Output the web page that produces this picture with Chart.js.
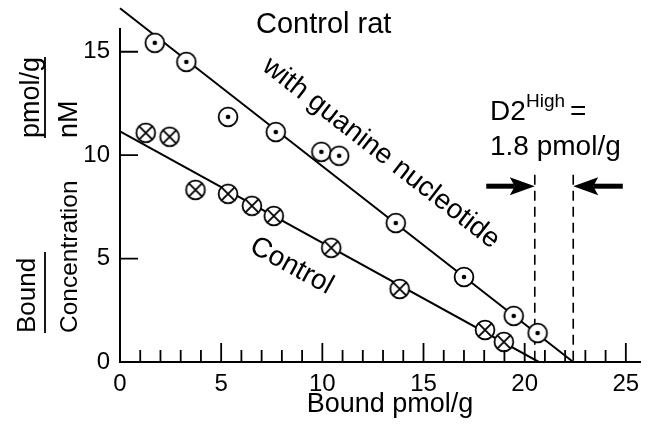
<!DOCTYPE html>
<html>
<head>
<meta charset="utf-8">
<script src="https://cdn.jsdelivr.net/npm/chart.js@4.4.0/dist/chart.umd.min.js"></script>
<style>
  html, body { margin: 0; padding: 0; background: #fff; }
  #wrap { position: relative; width: 653px; height: 425px; }
</style>
</head>
<body>
<div id="wrap"><canvas id="chart"></canvas></div>
<script>
// values
const guanineX = [1.72, 3.28, 5.34, 7.7, 9.95, 10.83, 13.63, 17.0, 19.46, 20.64];
const guanineY = [15.43, 14.51, 11.85, 11.12, 10.16, 9.97, 6.72, 4.11, 2.23, 1.4];
const controlX = [1.27, 2.45, 3.73, 5.34, 6.52, 7.6, 10.44, 13.82, 18.04, 18.97];
const controlY = [11.08, 10.89, 8.32, 8.13, 7.55, 7.06, 5.52, 3.53, 1.55, 0.97];

const guanineFitX = [0, 22.4];
const guanineFitY = [17.1, 0];
const controlFitX = [0, 20.7];
const controlFitY = [11.15, 0];

const bmaxX = [20.5, 22.4];   // dashed Bmax markers
const dashTop = 9.05;
const arrowY = 8.5;
const arrowTails = [18.1, 24.85];

const xTicks = [0, 5, 10, 15, 20, 25];
const yTicks = [0, 5, 10, 15];

const FONT = '"Liberation Sans", Arial, Helvetica, sans-serif';

const pts = (xs, ys) => xs.map((x, i) => ({ x: x, y: ys[i] }));

function marker(kind) {
  const c = document.createElement('canvas');
  c.width = 24; c.height = 24;
  const g = c.getContext('2d');
  g.fillStyle = '#fff';
  g.strokeStyle = '#000';
  g.lineWidth = 1.8;
  g.beginPath(); g.arc(12, 12, 9.4, 0, Math.PI * 2); g.fill(); g.stroke();
  if (kind === 'dot') {
    g.fillStyle = '#000';
    g.beginPath(); g.arc(12, 12, 2.3, 0, Math.PI * 2); g.fill();
  } else {
    const d = 6.6;
    g.beginPath();
    g.moveTo(12 - d, 12 - d); g.lineTo(12 + d, 12 + d);
    g.moveTo(12 + d, 12 - d); g.lineTo(12 - d, 12 + d);
    g.stroke();
  }
  return c;
}

function arrow(ctx, x0, x1, y) {
  const dir = Math.sign(x1 - x0);
  const headLen = 25, half = 9, notch = 5;
  ctx.lineWidth = 5;
  ctx.beginPath();
  ctx.moveTo(x0, y);
  ctx.lineTo(x1 - dir * (headLen - notch), y);
  ctx.stroke();
  ctx.beginPath();
  ctx.moveTo(x1, y);
  ctx.lineTo(x1 - dir * headLen, y - half);
  ctx.lineTo(x1 - dir * (headLen - notch), y);
  ctx.lineTo(x1 - dir * headLen, y + half);
  ctx.closePath();
  ctx.fill();
}

function rotText(ctx, txt, x, y, ang, font) {
  ctx.save();
  ctx.translate(x, y);
  ctx.rotate(ang);
  ctx.font = font;
  ctx.textAlign = 'center';
  ctx.textBaseline = 'middle';
  ctx.fillText(txt, 0, 0);
  ctx.restore();
}

const extras = {
  id: 'extras',
  afterDraw(chart) {
    const ctx = chart.ctx;
    const xs = chart.scales.x, ys = chart.scales.y;
    const x0 = xs.getPixelForValue(0), y0 = ys.getPixelForValue(0);
    ctx.save();
    ctx.strokeStyle = '#000';
    ctx.fillStyle = '#000';

    // inward ticks
    ctx.lineWidth = 1.8;
    ctx.beginPath();
    for (let v = 1; v <= 25; v++) {
      const px = xs.getPixelForValue(v);
      ctx.moveTo(px, y0);
      ctx.lineTo(px, y0 - (v % 5 === 0 ? 19 : 12));
    }
    yTicks.slice(1).forEach(v => {
      const py = ys.getPixelForValue(v);
      ctx.moveTo(x0, py);
      ctx.lineTo(x0 + 18, py);
    });
    ctx.stroke();

    // arrows toward the Bmax lines
    const ay = ys.getPixelForValue(arrowY);
    arrow(ctx, xs.getPixelForValue(arrowTails[0]), xs.getPixelForValue(bmaxX[0]), ay);
    arrow(ctx, xs.getPixelForValue(arrowTails[1]), xs.getPixelForValue(bmaxX[1]), ay);

    // titles and notes
    ctx.textAlign = 'left';
    ctx.textBaseline = 'alphabetic';
    ctx.font = '29px ' + FONT;
    ctx.fillText('Control rat', 256, 33);
    ctx.font = '28px ' + FONT;
    ctx.fillText('D2', 490, 120);
    ctx.fillText('=', 570, 120);
    ctx.fillText('1.8 pmol/g', 490, 155);
    ctx.font = '19px ' + FONT;
    ctx.fillText('High', 526, 107);

    // x-axis title
    ctx.font = '27px ' + FONT;
    ctx.textAlign = 'center';
    ctx.fillText('Bound pmol/g', 390, 412);

    // labels along the fitted lines
    const slope = (fx, fy) => Math.atan2(
      ys.getPixelForValue(fy[1]) - ys.getPixelForValue(fy[0]),
      xs.getPixelForValue(fx[1]) - xs.getPixelForValue(fx[0]));
    rotText(ctx, 'with guanine nucleotide', xs.getPixelForValue(12.9), ys.getPixelForValue(10.1),
      slope(guanineFitX, guanineFitY), '28px ' + FONT);
    rotText(ctx, 'Control', xs.getPixelForValue(8.48), ys.getPixelForValue(4.64),
      slope(controlFitX, controlFitY), '28px ' + FONT);

    // y-axis title as a fraction
    const up = (txt, bx, by, size) => {
      ctx.save();
      ctx.translate(bx, by);
      ctx.rotate(-Math.PI / 2);
      ctx.font = size + 'px ' + FONT;
      ctx.textAlign = 'left';
      ctx.textBaseline = 'alphabetic';
      ctx.fillText(txt, 0, 0);
      ctx.restore();
    };
    up('Bound', 35, 333, 26);
    up('Concentration', 77, 333, 24.5);
    up('pmol/g', 39, 138, 27);
    up('nM', 77, 138, 27);
    ctx.lineWidth = 1.8;
    ctx.beginPath();
    ctx.moveTo(45, 252); ctx.lineTo(45, 333);
    ctx.moveTo(45, 57); ctx.lineTo(45, 138);
    ctx.stroke();

    ctx.restore();
  }
};

new Chart(document.getElementById('chart'), {
  type: 'scatter',
  data: {
    datasets: [
      {
        label: 'with guanine nucleotide',
        data: pts(guanineX, guanineY),
        pointStyle: marker('dot'),
        pointRadius: 12
      },
      {
        label: 'Control',
        data: pts(controlX, controlY),
        pointStyle: marker('cross'),
        pointRadius: 12
      },
      {
        label: 'fit guanine',
        data: pts(guanineFitX, guanineFitY),
        showLine: true, pointRadius: 0, borderColor: '#000', borderWidth: 2, clip: false
      },
      {
        label: 'fit control',
        data: pts(controlFitX, controlFitY),
        showLine: true, pointRadius: 0, borderColor: '#000', borderWidth: 2
      },
      {
        label: 'Bmax control',
        data: [{ x: bmaxX[0], y: dashTop }, { x: bmaxX[0], y: 0 }],
        showLine: true, pointRadius: 0, borderColor: '#000', borderWidth: 1.6, borderDash: [10, 6]
      },
      {
        label: 'Bmax guanine',
        data: [{ x: bmaxX[1], y: dashTop }, { x: bmaxX[1], y: 0 }],
        showLine: true, pointRadius: 0, borderColor: '#000', borderWidth: 1.6, borderDash: [10, 6]
      }
    ]
  },
  options: {
    responsive: true,
    maintainAspectRatio: false,
    animation: false,
    events: [],
    layout: { padding: { left: 0, right: 8, top: 29, bottom: 0 } },
    plugins: { legend: { display: false }, tooltip: { enabled: false } },
    scales: {
      x: {
        min: 0, max: 25.7,
        afterBuildTicks: s => { s.ticks = xTicks.map(v => ({ value: v })); },
        afterFit: s => { s.height = 63; },
        grid: { display: false, drawTicks: false },
        border: { display: true, color: '#000', width: 2 },
        ticks: { color: '#000', padding: 8, maxRotation: 0, font: { family: FONT, size: 24 } }
      },
      y: {
        min: 0, max: 16.1,
        afterBuildTicks: s => { s.ticks = yTicks.map(v => ({ value: v })); },
        afterFit: s => { s.width = 120; },
        grid: { display: false, drawTicks: false },
        border: { display: true, color: '#000', width: 2 },
        ticks: { color: '#000', padding: 10, font: { family: FONT, size: 24 } }
      }
    }
  },
  plugins: [extras]
});
</script>
</body>
</html>
